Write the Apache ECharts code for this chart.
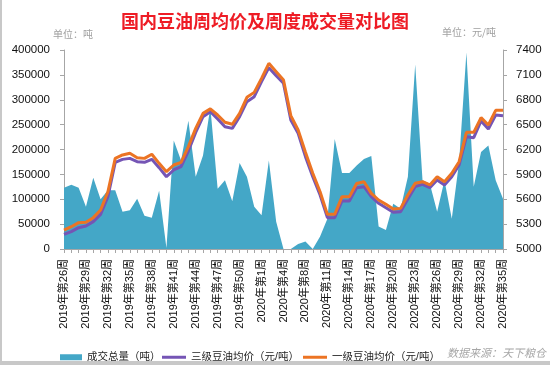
<!DOCTYPE html>
<html>
<head>
<meta charset="utf-8">
<script src="https://cdn.jsdelivr.net/npm/echarts@6/dist/echarts.min.js"></script>
<style>html,body{margin:0;padding:0;background:#fff;}#c{width:550px;height:373px;}</style>
</head>
<body>
<div id="c"></div>
<script>
const categories = [
 '2019年第26周','2019年第27周','2019年第28周','2019年第29周','2019年第30周','2019年第31周','2019年第32周','2019年第33周','2019年第34周',
 '2019年第35周','2019年第36周','2019年第37周','2019年第38周','2019年第39周','2019年第40周','2019年第41周','2019年第42周','2019年第43周',
 '2019年第44周','2019年第45周','2019年第46周','2019年第47周','2019年第48周','2019年第49周','2019年第50周','2019年第51周','2019年第52周',
 '2020年第1周','2020年第2周','2020年第3周','2020年第4周','2020年第6周','2020年第7周','2020年第8周','2020年第9周','2020年第10周',
 '2020年第11周','2020年第12周','2020年第13周','2020年第14周','2020年第15周','2020年第16周','2020年第17周','2020年第18周','2020年第19周',
 '2020年第20周','2020年第21周','2020年第22周','2020年第23周','2020年第24周','2020年第25周','2020年第26周','2020年第27周','2020年第28周',
 '2020年第29周','2020年第30周','2020年第31周','2020年第32周','2020年第33周','2020年第34周','2020年第35周'
];
const volume = [
 123000,129000,123000,85000,143000,100000,118000,118000,75000,
 78000,101000,67000,63000,117000,2000,218000,178000,258000,
 145000,188000,285000,121000,138000,96000,173000,145000,85000,
 68000,178000,55000,0,0,10000,15000,0,25000,
 61000,221000,153000,153000,168000,181000,187000,45000,38000,
 91000,81000,145000,371000,138000,131000,75000,138000,61000,
 175000,395000,125000,195000,208000,138000,101000
];
const grade3Price = [
 5177,5209,5257,5277,5330,5418,5631,6045,6081,
 6093,6053,6045,6081,5981,5872,5953,5993,6182,
 6407,6596,6656,6568,6475,6455,6596,6777,6837,
 7018,7187,7090,6998,6556,6395,6114,5872,5651,
 5378,5378,5579,5579,5740,5752,5631,5551,5498,
 5442,5450,5603,5752,5780,5740,5832,5772,5872,
 6013,6355,6343,6544,6447,6616,6608
];
const grade1Price = [
 5229,5269,5318,5322,5378,5470,5691,6093,6134,
 6154,6101,6093,6142,6033,5933,6013,6045,6234,
 6455,6636,6690,6616,6528,6504,6636,6829,6889,
 7058,7239,7139,7038,6608,6435,6166,5913,5691,
 5418,5418,5631,5631,5790,5812,5671,5591,5539,
 5482,5490,5651,5792,5812,5772,5872,5812,5913,
 6053,6407,6407,6584,6495,6672,6672
];
const rightTicks = [5000,5300,5600,5900,6200,6500,6800,7100,7400];

const FONT = '"Liberation Sans", "Noto Sans CJK SC", sans-serif';
const chart = echarts.init(document.getElementById('c'), null, {renderer:'canvas'});
const axisGray = '#a6a6a6';
const plain = v => String(v);
chart.setOption({
  animation:false,
  backgroundColor:'#fff',
  title:{
    text:'国内豆油周均价及周度成交量对比图',
    left:116, top:7,
    textStyle:{color:'#ee1c25', fontSize:18, fontWeight:'bold', fontFamily:'"Noto Sans CJK SC", sans-serif'}
  },
  graphic:[
    {type:'rect', left:0, top:0, shape:{width:2, height:365}, style:{fill:'#c8c8c8'}},
    {type:'rect', left:0, top:361, shape:{width:550, height:4}, style:{fill:'#c8c8c8'}},
    {type:'text', left:53, top:29, style:{text:'单位：吨', fill:'#a0a0a0', font:'10px "Noto Sans CJK SC"'}},
    {type:'text', left:442, top:27, style:{text:'单位：元/吨', fill:'#a0a0a0', font:'10px "Noto Sans CJK SC"'}},
    {type:'text', right:4, top:347, style:{text:'数据来源：天下粮仓', fill:'#a6a6a6', font:'italic 11px "Noto Sans CJK SC"'}}
  ],
  legend:[
    {left:55, top:347, itemWidth:22, itemHeight:6, data:[{name:'成交总量（吨）', icon:'rect'}],
     textStyle:{fontSize:10.5, color:'#222', fontFamily:FONT}},
    {left:157, top:347, itemWidth:24, itemHeight:3, data:[{name:'三级豆油均价（元/吨）', icon:'rect'}],
     textStyle:{fontSize:10.5, color:'#222', fontFamily:FONT}},
    {left:298, top:347, itemWidth:24, itemHeight:3, data:[{name:'一级豆油均价（元/吨）', icon:'rect'}],
     textStyle:{fontSize:10.5, color:'#222', fontFamily:FONT}}
  ],
  grid:{left:64, right:47, top:50, bottom:124, containLabel:false},
  xAxis:{
    type:'category', data:categories, boundaryGap:false,
    axisLine:{lineStyle:{color:axisGray}},
    axisTick:{interval:0, length:4, lineStyle:{color:axisGray}},
    axisLabel:{interval:2, rotate:90, margin:10, fontSize:11, color:'#111', fontFamily:FONT}
  },
  yAxis:[
    {type:'value', min:0, max:400000, interval:50000, position:'left',
     splitLine:{show:false},
     axisLine:{show:true, lineStyle:{color:axisGray}},
     axisTick:{show:true, length:4, lineStyle:{color:axisGray}},
     axisLabel:{margin:14, fontSize:11.5, color:'#111', fontFamily:FONT, formatter:plain}},
    {type:'value', min:5000, max:7400, position:'right',
     splitLine:{show:false},
     axisLine:{show:true, lineStyle:{color:axisGray}},
     axisTick:{show:true, length:4, lineStyle:{color:axisGray}, customValues:rightTicks},
     axisLabel:{margin:13, fontSize:11.5, color:'#111', fontFamily:FONT, customValues:rightTicks, formatter:plain}}
  ],
  series:[
    {name:'成交总量（吨）', type:'line', yAxisIndex:0, data:volume, symbol:'none',
     lineStyle:{width:0}, itemStyle:{color:'#44a7c7'}, areaStyle:{color:'#44a7c7', opacity:1}},
    {name:'三级豆油均价（元/吨）', type:'line', yAxisIndex:1, data:grade3Price, symbol:'none',
     lineStyle:{width:3, color:'#7555b5'}, itemStyle:{color:'#7555b5'}},
    {name:'一级豆油均价（元/吨）', type:'line', yAxisIndex:1, data:grade1Price, symbol:'none',
     lineStyle:{width:3, color:'#ec7424'}, itemStyle:{color:'#ec7424'}}
  ]
});
</script>
</body>
</html>
